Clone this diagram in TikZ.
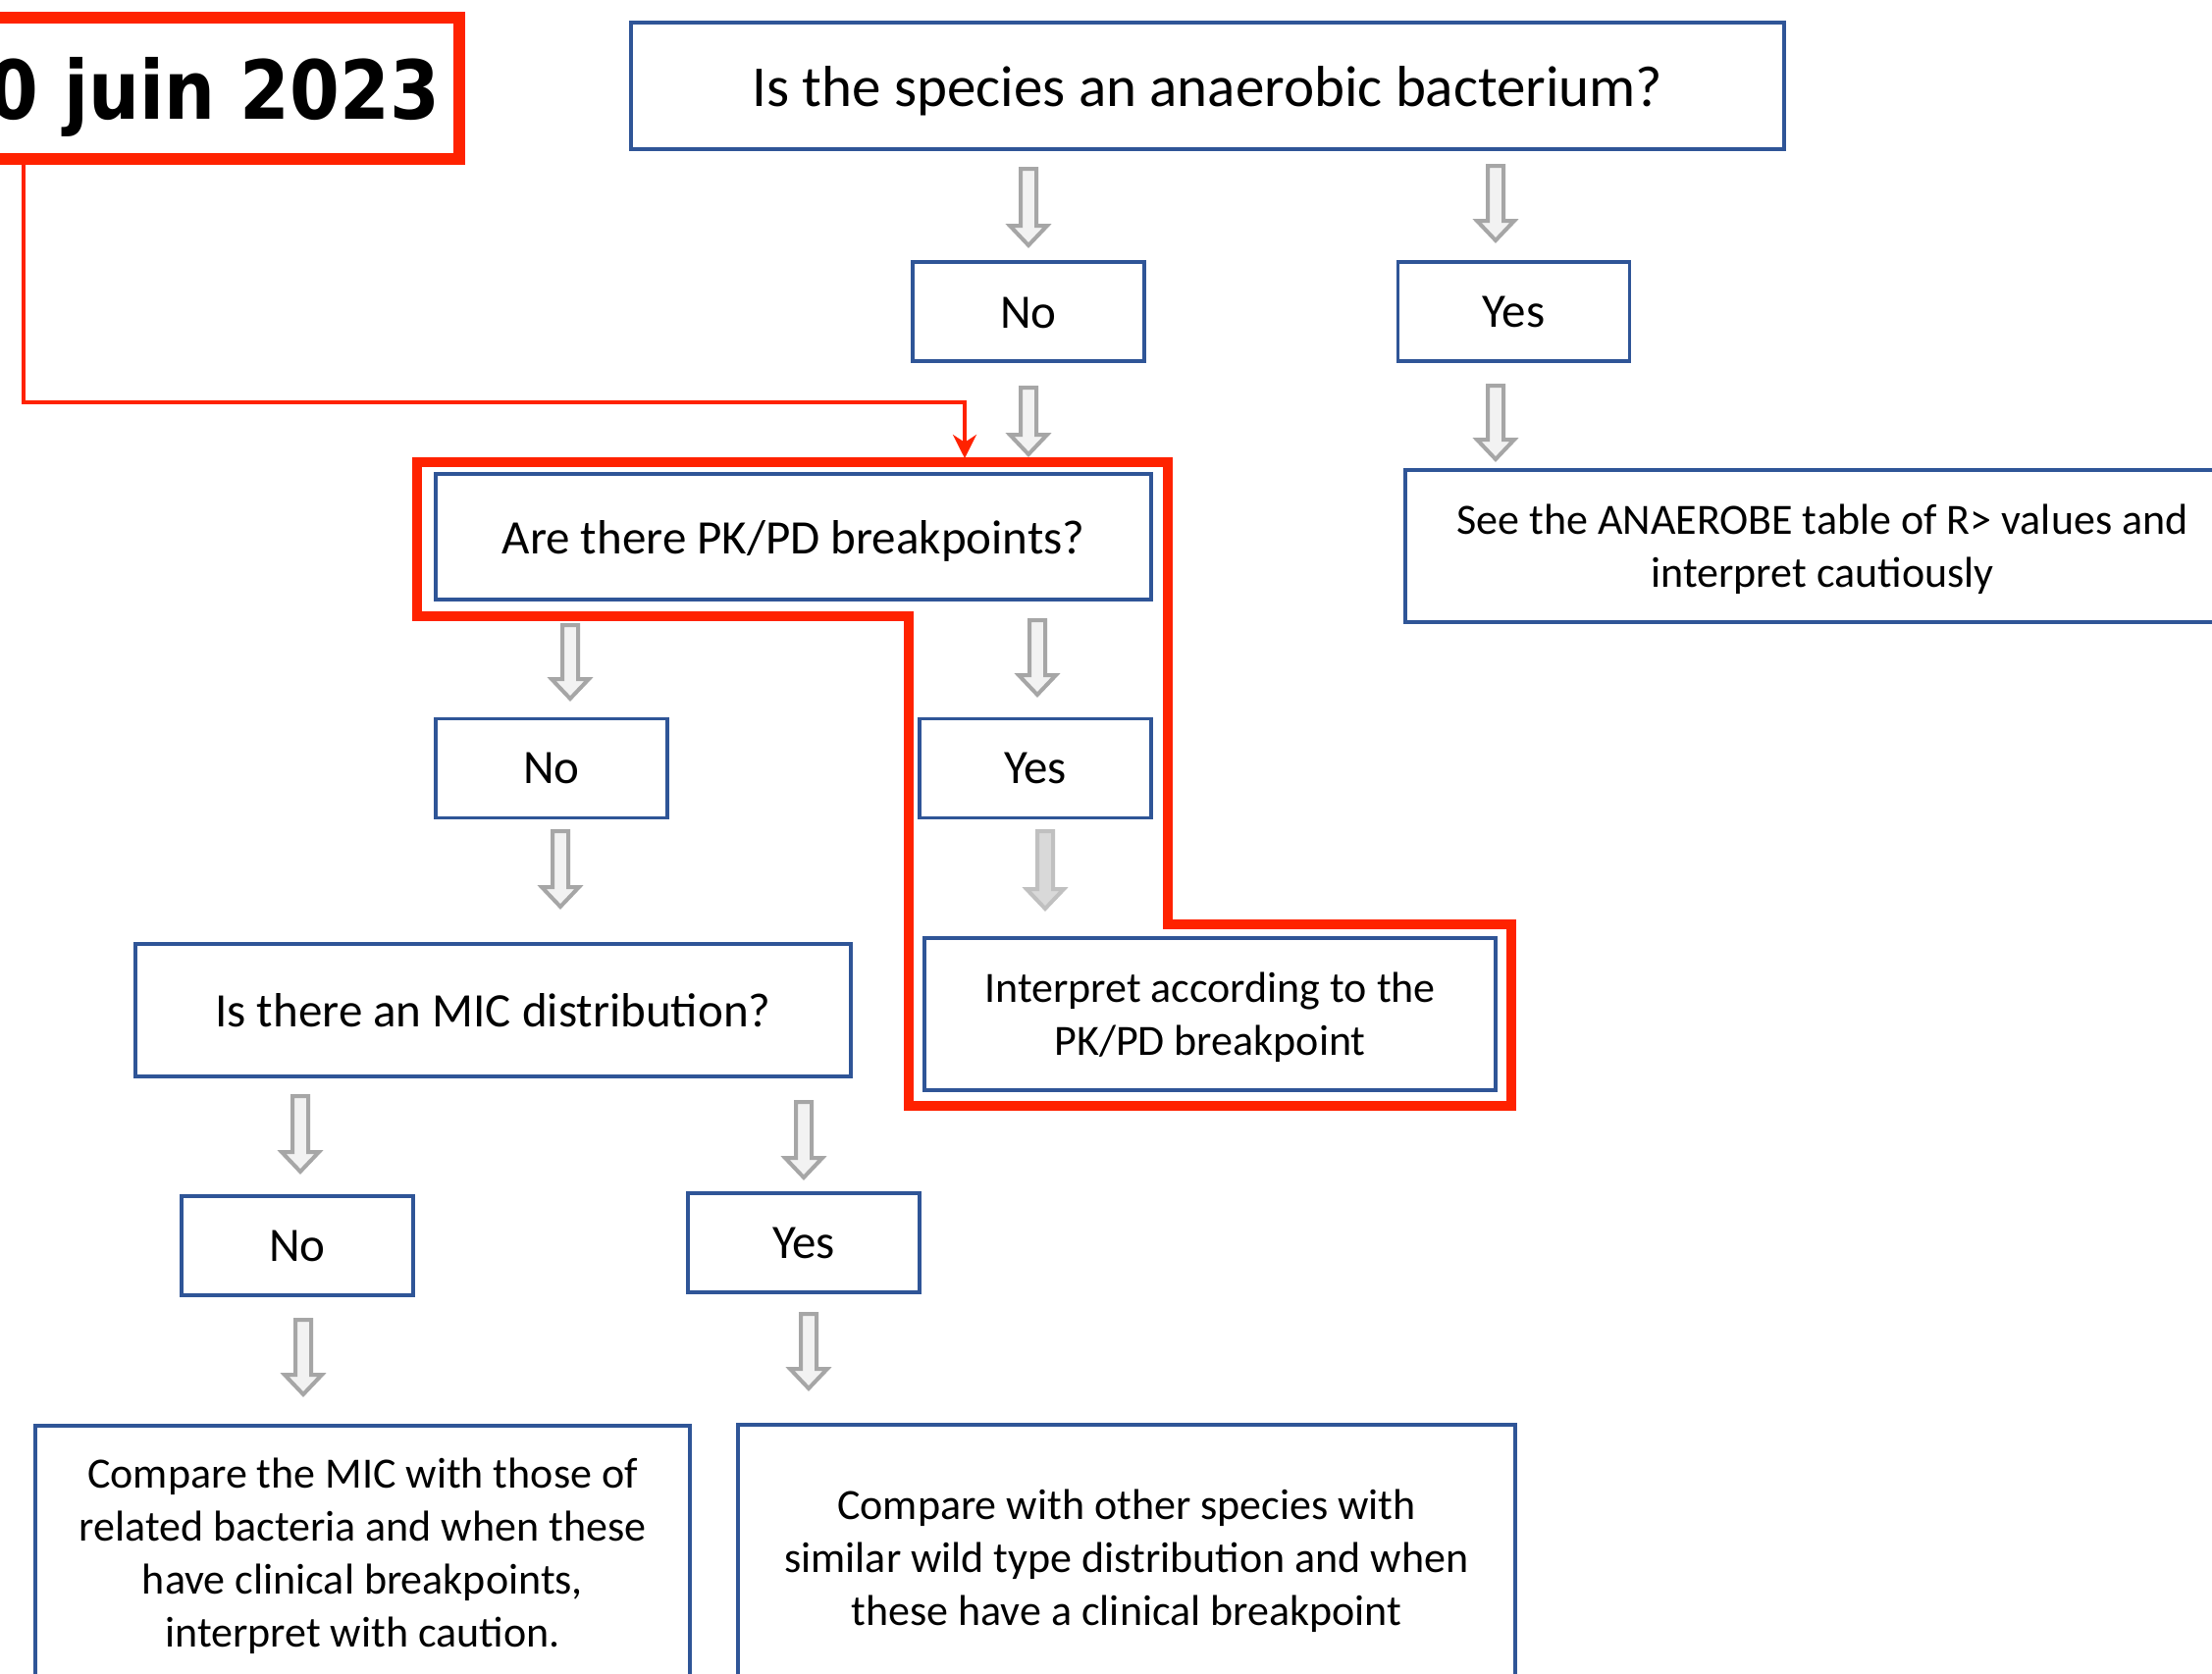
\documentclass[tikz,border=0pt]{standalone}
\usepackage{fontspec}
\setmainfont{Carlito}
\newfontfamily\datefont{DejaVu Sans}[FakeStretch=0.88]
\usetikzlibrary{calc,arrows.meta}
\definecolor{boxblue}{RGB}{47,85,151}
\definecolor{hlred}{RGB}{255,34,0}
\definecolor{arrline}{RGB}{166,166,166}
\definecolor{arrfill}{RGB}{242,242,242}
\definecolor{arrline2}{RGB}{192,192,192}
\definecolor{arrfill2}{RGB}{217,217,217}
\newcommand\garrow[3][garrowst]{%
  \path[#1] let \p1=#2, \p2=#3 in
    (\x1-4pt,\y1) -- (\x1+4pt,\y1) -- (\x1+4pt,\y2+10pt) -- (\x1+9.5pt,\y2+10pt)
    -- (\x1,\y2) -- (\x1-9.5pt,\y2+10pt) -- (\x1-4pt,\y2+10pt) -- cycle;}
% lower the text by #1 while keeping the box's reported extent
\newcommand\dn[2]{\raisebox{-#1}[\height][\depth]{\begin{tabular}{@{}c@{}}#2\end{tabular}}}
\begin{document}
\begin{tikzpicture}[x=0.5pt,y=-0.5pt,
  box/.style={draw=boxblue, line width=1.8pt, fill=white, inner sep=0pt, align=center,
    font=\fontsize{24.5}{30}\selectfont},
  bigq/.style={box, font=\fontsize{29.5}{35}\selectfont},
  desc/.style={box, font=\fontsize{22}{27}\selectfont},
  yn/.style={box, minimum width=118pt, minimum height=50.5pt},
  garrowst/.style={draw=arrline, fill=arrfill, line width=2pt, line join=miter},
  garrowdk/.style={draw=arrline2, fill=arrfill2, line width=2pt, line join=miter},
  hlline/.style={draw=hlred, line width=5pt, line join=miter},
  hlconn/.style={draw=hlred, line width=1.8pt, -{Stealth[length=12pt,width=12pt]}},
  datebox/.style={draw=hlred, line width=6pt, inner xsep=10pt, inner ysep=0pt,
    minimum height=72pt, text depth=0pt,
    font=\datefont\bfseries\fontsize{41.5}{48}\selectfont}]
\useasboundingbox (0,0) rectangle (2254,1705);
\clip (0,0) rectangle (2254,1705);
\fill[white] (0,0) rectangle (2254,1705);

% boxes
\node[bigq, minimum width=587.5pt, minimum height=64.5pt] (q1) at (1230.5,87.5) {\dn{3.6pt}{Is the species an anaerobic bacterium?}};
\node[yn] (no1) at (1048,317.5) {\dn{2.6pt}{No}};
\node[yn] (yes1) at (1542.5,317.5) {Yes};
\node[box, minimum width=364.5pt, minimum height=64pt] (pk) at (808.5,547) {\dn{2.7pt}{Are there PK/PD breakpoints?}};
\node[desc, minimum width=425pt, minimum height=77.5pt] (ana) at (1857,556.5) {\dn{2.3pt}{See the ANAEROBE table of R> values and\\interpret cautiously}};
\node[yn] (no2) at (562,783) {No};
\node[yn] (yes2) at (1055,783) {Yes};
\node[box, minimum width=364.5pt, minimum height=67.5pt] (mic) at (502.5,1029.5) {Is there an MIC distribution?};
\node[desc, minimum width=291pt, minimum height=77.5pt] (interp) at (1233,1033.5) {\dn{2.2pt}{Interpret according to the\\PK/PD breakpoint}};
\node[yn] (no3) at (303,1269.5) {No};
\node[yn] (yes3) at (819,1266.5) {Yes};
\node[desc, minimum width=333.5pt, minimum height=129pt] (cmic) at (369.5,1582) {\dn{2.2pt}{Compare the MIC with those of\\related bacteria and when these\\have clinical breakpoints,\\interpret with caution.}};
\node[desc, minimum width=396pt, minimum height=134pt] (csp) at (1148,1586) {\dn{2.7pt}{Compare with other species with\\similar wild type distribution and when\\these have a clinical breakpoint}};

% block arrows
\garrow{(1048,172)}{(1048,250)}
\garrow{(1524,169)}{(1524,245)}
\garrow{(1048,395)}{(1048,463)}
\garrow{(1524,393)}{(1524,468)}
\garrow{(581,637)}{(581,712)}
\garrow{(1057,632)}{(1057,708)}
\garrow{(571,847)}{(571,924)}
\garrow[garrowdk]{(1065,847)}{(1065,926)}
\garrow{(306,1117)}{(306,1194)}
\garrow{(819,1123)}{(819,1200)}
\garrow{(309,1345)}{(309,1421)}
\garrow{(824,1339)}{(824,1415)}

% highlight outline
\draw[hlline] (425,471) -- (1190,471) -- (1190,942) -- (1540,942) -- (1540,1127)
  -- (926,1127) -- (926,628) -- (425,628) -- cycle;

% date box
\node[datebox, anchor=east] (date) at (474,90) {0 juin 2023};

% red connector
\coordinate (c0) at (24,165);
\coordinate (c1) at (983,467);
\draw[hlconn] (c0) -- (24,410) -| (c1);
\end{tikzpicture}
\end{document}
